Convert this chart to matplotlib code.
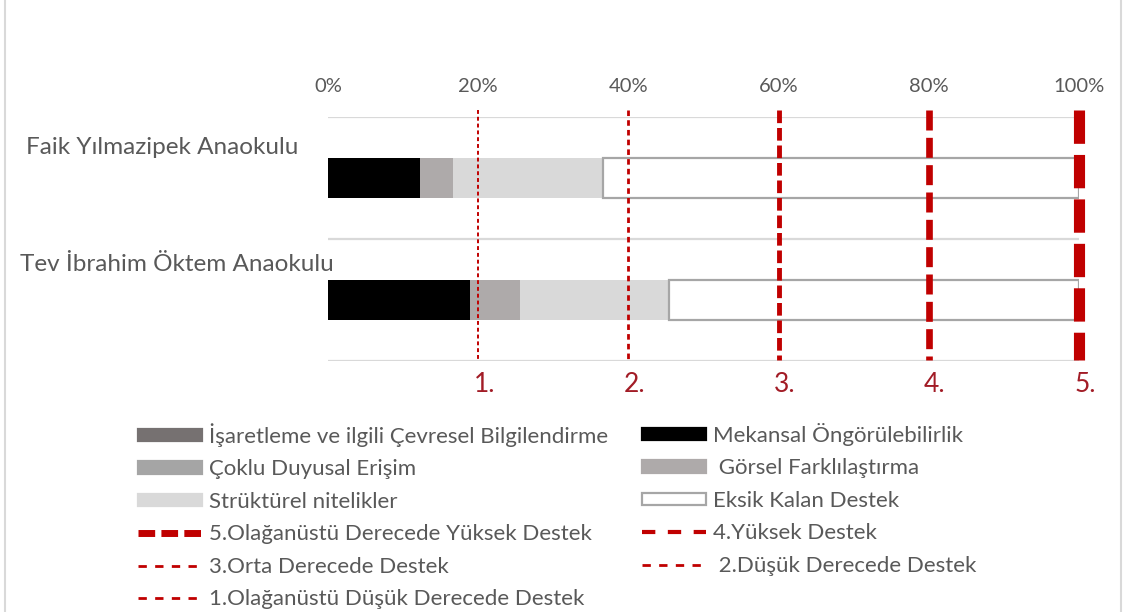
import matplotlib
matplotlib.use("Agg")
import matplotlib.pyplot as plt
from matplotlib.patches import Patch
from matplotlib.lines import Line2D
import numpy as np

plt.rcParams['font.family'] = ['Lato', 'DejaVu Sans']

# data
schools = ["Faik Yılmazipek Anaokulu", "Tev İbrahim Öktem Anaokulu"]
series_names = ["İşaretleme ve ilgili Çevresel Bilgilendirme",
                "Mekansal Öngörülebilirlik",
                "Çoklu Duyusal Erişim",
                " Görsel Farklılaştırma",
                "Strüktürel nitelikler",
                "Eksik Kalan Destek"]
isaretleme = [0.0, 0.0]
mekansal = [12.2, 18.9]
coklu = [0.0, 0.0]
gorsel = [4.4, 6.7]
strukturel = [20.0, 19.8]
eksik = [63.4, 54.6]
level_pos = [20, 40, 60, 80, 100]
level_labels = ["1.", "2.", "3.", "4.", "5."]
level_names = ["1.Olağanüstü Düşük Derecede Destek",
               " 2.Düşük Derecede Destek",
               "3.Orta Derecede Destek",
               "4.Yüksek Destek",
               "5.Olağanüstü Derecede Yüksek Destek"]
xticks = [0, 20, 40, 60, 80, 100]

txt = '#595959'
red = '#c00000'
series = [isaretleme, mekansal, coklu, gorsel, strukturel, eksik]
fills = ['#767171', '#000000', '#a5a5a5', '#aeaaaa', '#d9d9d9', 'white']

fig = plt.figure(figsize=(11.28, 6.12), dpi=100)
ax = fig.add_axes([328/1128, 1-361/612, 751/1128, 244/612])

y = np.arange(len(schools))
left = np.zeros(len(schools))
for vals, c, name in zip(series, fills, series_names):
    if c == 'white':
        ax.barh(y, vals, left=left, height=0.33, color=c, edgecolor='#a6a6a6', linewidth=1.6)
    else:
        ax.barh(y, vals, left=left, height=0.33, color=c, linewidth=0)
    left += np.array(vals)

ax.set_xlim(0, 100)
ax.set_ylim(1.5, -0.5)
ax.xaxis.tick_top()
ax.set_xticks(xticks)
ax.set_xticklabels([f"{t}%" for t in xticks], color=txt, fontsize=14.5)
ax.tick_params(axis='x', length=0, pad=16)
ax.set_yticks([])
for b in np.arange(len(schools) + 1) - 0.5:
    ax.axhline(b, color='#d9d9d9', lw=1.6, zorder=0)
for s in ax.spines.values():
    s.set_visible(False)

# category labels (odd Excel placement)
ax.text(-0.04, -0.254, schools[0], transform=ax.get_yaxis_transform(), ha='right', va='center',
        fontsize=17.5, color=txt)
ax.text(0.007, 0.713, schools[1], transform=ax.get_yaxis_transform(), ha='right', va='center',
        fontsize=17.5, color=txt)

# level lines
widths = [1.4, 2.0, 3.5, 4.8, 8.0]
dashes = [(2, 1.5), (2, 1.5), (2.6, 1.0), (3.0, 1.1), (3.0, 1.0)]
for xp, w, d in zip(level_pos, widths, dashes):
    ax.vlines(xp, -0.56, 1.49, color=red, lw=w, linestyles=[(0, d)], clip_on=False, zorder=5)
for xp, lab in zip(level_pos, level_labels):
    ax.text(xp + 0.8, 1.69, lab, ha='center', va='center', fontsize=19, color='#a21c26', clip_on=False)

# legend
h = {name: Patch(facecolor=c, edgecolor=('#a6a6a6' if c == 'white' else c), linewidth=1.6)
     for name, c in zip(series_names, fills)}
lh = {
    level_names[4]: Line2D([], [], color=red, lw=5.0, dashes=(2.4, 0.9)),
    level_names[3]: Line2D([], [], color=red, lw=3.0, dashes=(3.2, 3.0)),
    level_names[2]: Line2D([], [], color=red, lw=2.0, dashes=(3.0, 3.0)),
    level_names[1]: Line2D([], [], color=red, lw=2.0, dashes=(3.0, 3.0)),
    level_names[0]: Line2D([], [], color=red, lw=2.0, dashes=(3.0, 3.0)),
}
col1 = [series_names[0], series_names[2], series_names[4], level_names[4], level_names[2], level_names[0]]
col2 = [series_names[1], series_names[3], series_names[5], level_names[3], level_names[1]]
for names, x0 in [(col1, 138/1128), (col2, 642/1128)]:
    handles = [h[n] if n in h else lh[n] for n in names]
    leg = fig.legend(handles, names, loc='upper left', bbox_to_anchor=(x0, 1-423/612),
                     frameon=False, fontsize=16, handlelength=2.9, handleheight=0.5,
                     handletextpad=0.28, labelspacing=0.56, borderaxespad=0, borderpad=0)
    for t in leg.get_texts():
        t.set_color(txt)

# outer border
fig.add_artist(Line2D([0.004, 0.004], [0, 1], transform=fig.transFigure, color='#d9d9d9', lw=1.5))
fig.add_artist(Line2D([0.994, 0.994], [0, 1], transform=fig.transFigure, color='#d9d9d9', lw=1.5))

fig.savefig("out.png", dpi=100)
